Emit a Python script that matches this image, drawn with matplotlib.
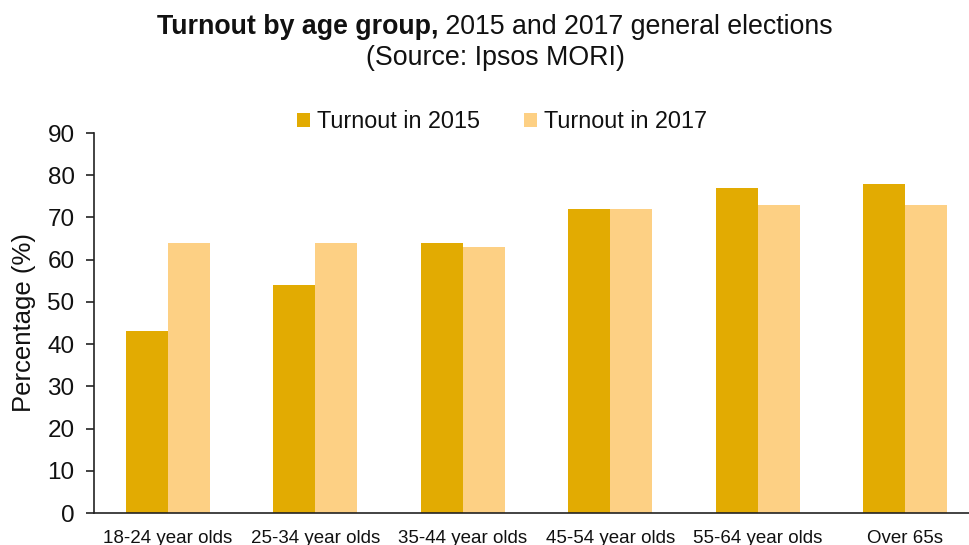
import matplotlib
matplotlib.use("Agg")
import matplotlib.pyplot as plt
import numpy as np

categories = ["18-24 year olds", "25-34 year olds", "35-44 year olds",
              "45-54 year olds", "55-64 year olds", "Over 65s"]
turnout_2015 = [43, 54, 64, 72, 77, 78]
turnout_2017 = [64, 64, 63, 72, 73, 73]
series_labels = ["Turnout in 2015", "Turnout in 2017"]
yticks = [0, 10, 20, 30, 40, 50, 60, 70, 80, 90]

plt.rcParams['font.family'] = ['Liberation Sans', 'DejaVu Sans']

W, H = 969, 545
fig = plt.figure(figsize=(W / 100, H / 100), dpi=100)
ax = fig.add_axes([94 / W, 1 - 513 / H, (979 - 94) / W, (513 - 133) / H])

x = np.arange(len(categories))
bw = 0.285
ax.bar(x - bw / 2, turnout_2015, bw, color='#E2AB02', label=series_labels[0])
ax.bar(x + bw / 2, turnout_2017, bw, color='#FDD084', label=series_labels[1])

ax.set_xlim(-0.5, len(categories) - 0.5)
ax.set_ylim(0, 90)
ax.set_yticks(yticks)
ax.set_xticks(x)
ax.set_xticklabels(categories, fontsize=13.5, color='#111111')
ax.tick_params(axis='y', labelsize=17.5, length=6, width=1.2, color='#222222', pad=8,
               labelcolor='#111111')
ax.tick_params(axis='x', length=0, pad=12)
for s in ['top', 'right']:
    ax.spines[s].set_visible(False)
for s in ['left', 'bottom']:
    ax.spines[s].set_linewidth(1.2)
    ax.spines[s].set_color('#222222')
ax.set_ylabel("Percentage (%)", fontsize=18.5, color='#111111')
ax.yaxis.set_label_coords(-0.066, 0.5)

leg = fig.legend(loc='center', bbox_to_anchor=(502 / W, 1 - 122 / H), ncol=2,
                 frameon=False, fontsize=16.8, handlelength=0.55, handleheight=0.55,
                 handletextpad=0.3, columnspacing=1.9)
for t in leg.get_texts():
    t.set_color('#111111')

# Title with mixed weights
fig.canvas.draw()
r = fig.canvas.get_renderer()
t1 = fig.text(0, 1 - 27 / H, "Turnout by age group,", fontsize=19.3, fontweight='bold',
              ha='left', va='center', color='#111111')
t2 = fig.text(0, 1 - 27 / H, " 2015 and 2017 general elections", fontsize=19.3,
              ha='left', va='center', color='#111111')
w1 = t1.get_window_extent(r).width
w2 = t2.get_window_extent(r).width
start = 495 - (w1 + w2) / 2
t1.set_x(start / W)
t2.set_x((start + w1) / W)
fig.text(495 / W, 1 - 58 / H, "(Source: Ipsos MORI)", fontsize=19.3, ha='center',
         va='center', color='#111111')

fig.savefig("out.png", dpi=100)
